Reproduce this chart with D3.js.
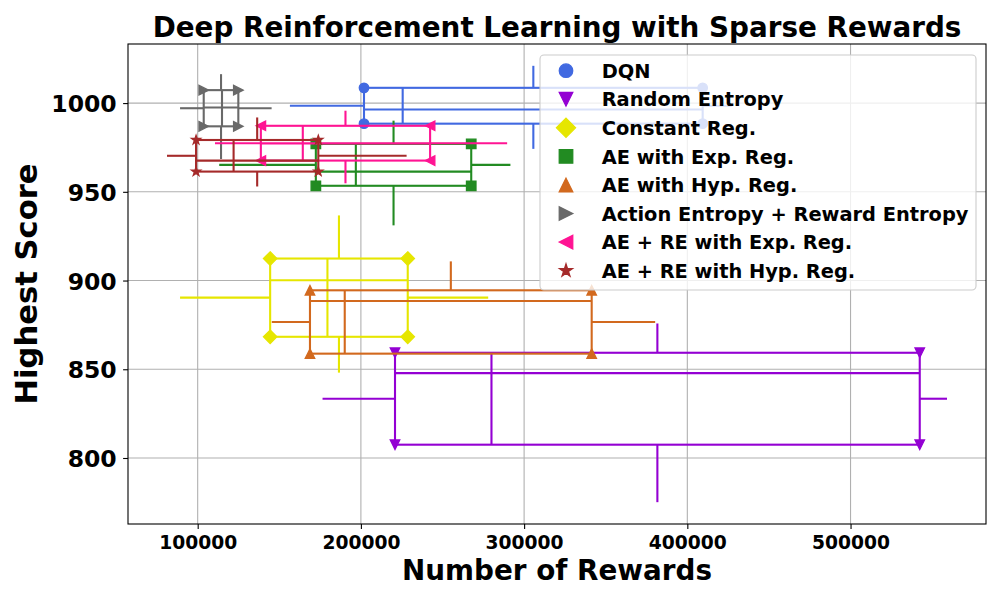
<!DOCTYPE html>
<html>
<head>
<meta charset="utf-8">
<script src="https://cdn.jsdelivr.net/npm/d3@7"></script>
<style>
  html, body { margin: 0; padding: 0; background: #fff; }
  svg { display: block; font-family: "DejaVu Sans", sans-serif; }
</style>
</head>
<body>
<svg id="chart" width="1000" height="600"></svg>
<script>
// ---- data ----
const methods = [
  "DQN",
  "Random Entropy",
  "Constant Reg.",
  "AE with Exp. Reg.",
  "AE with Hyp. Reg.",
  "Action Entropy + Reward Entropy",
  "AE + RE with Exp. Reg.",
  "AE + RE with Hyp. Reg."
];
// Number of Rewards (x) box statistics
const xWhiskerLow  = [156500, 176500,  89200, 113200, 145400,  89200, 110600,  81200];
const xQ1          = [201900, 220900, 144400, 172400, 168800, 103700, 138700,  99000];
const xMedian      = [225600, 280000, 179500, 196900, 190100, 114900, 164400, 122000];
const xQ3          = [409400, 542400, 228700, 267600, 341400, 124900, 242400, 173900];
const xWhiskerHigh = [427200, 559100, 278000, 291600, 380300, 145300, 289600, 228000];
// Highest Score (y) box statistics
const yWhiskerLow  = [974.2, 775.1, 848.1, 931.1, 858.8, 968.5, 954.8, 953.0];
const yQ1          = [988.4, 807.5, 868.3, 953.4, 858.8, 986.9, 967.6, 961.4];
const yMedian      = [996.4, 847.8, 900.2, 961.4, 888.5, 997.5, 977.3, 967.6];
const yQ3          = [1008.6, 859.3, 912.4, 977.0, 894.5, 1007.3, 987.2, 979.2];
const yWhiskerHigh = [1021.0, 875.8, 936.7, 990.1, 910.8, 1016.3, 995.7, 991.9];

const xTicks = [100000, 200000, 300000, 400000, 500000];
const yTicks = [800, 850, 900, 950, 1000];

// ---- styles ----
const colors  = ["#4169e1", "#9400d3", "#e6e600", "#228b22", "#d2691e", "#696969", "#ff1493", "#a52a2a"];
const markers = ["o", "v", "D", "s", "^", ">", "<", "*"];

const W = 1000, H = 600;
const plot = { left: 128, right: 986, top: 44, bottom: 524 };

const svg = d3.select("#chart");
svg.append("rect").attr("width", W).attr("height", H).attr("fill", "#fff");

// domain: data extent with 5% margins (matplotlib auto-scaling)
const xmin = d3.min(xWhiskerLow), xmax = d3.max(xWhiskerHigh);
const ymin = d3.min(yWhiskerLow), ymax = d3.max(yWhiskerHigh);
const xs = (xmax - xmin) * 0.05, ys = (ymax - ymin) * 0.05;
const x = d3.scaleLinear().domain([xmin - xs, xmax + xs]).range([plot.left, plot.right]);
const y = d3.scaleLinear().domain([ymin - ys, ymax + ys]).range([plot.bottom, plot.top]);

// grid
const grid = svg.append("g");
grid.selectAll(".gx").data(xTicks).join("line")
  .attr("x1", d => x(d)).attr("x2", d => x(d))
  .attr("y1", plot.top).attr("y2", plot.bottom)
  .attr("stroke", "#b0b0b0").attr("stroke-width", 1.1);
grid.selectAll(".gy").data(yTicks).join("line")
  .attr("y1", d => y(d)).attr("y2", d => y(d))
  .attr("x1", plot.left).attr("x2", plot.right)
  .attr("stroke", "#b0b0b0").attr("stroke-width", 1.1);

// marker paths (size s in px, matplotlib-like geometry)
function markerPath(m, s) {
  const h = s / 2;
  switch (m) {
    case "o": return `M${h},0A${h},${h} 0 1,1 ${-h},0A${h},${h} 0 1,1 ${h},0Z`;
    case "s": return `M${-h},${-h}L${h},${-h}L${h},${h}L${-h},${h}Z`;
    case "D": { const d = s * 0.7071; return `M0,${-d}L${d},0L0,${d}L${-d},0Z`; }
    case "^": return `M0,${-h}L${h},${h}L${-h},${h}Z`;
    case "v": return `M0,${h}L${h},${-h}L${-h},${-h}Z`;
    case ">": return `M${h},0L${-h},${-h}L${-h},${h}Z`;
    case "<": return `M${-h},0L${h},${-h}L${h},${h}Z`;
    case "*": {
      const pts = [];
      for (let k = 0; k < 10; k++) {
        const r = k % 2 === 0 ? h : h * 0.381966;
        const a = -Math.PI / 2 + k * Math.PI / 5;
        pts.push([r * Math.cos(a), r * Math.sin(a)]);
      }
      return "M" + pts.map(p => p[0].toFixed(2) + "," + p[1].toFixed(2)).join("L") + "Z";
    }
  }
}

const LW = 2.1;
const MS = 9.5;
const seriesG = svg.append("g");
methods.forEach((name, i) => {
  const c = colors[i];
  const g = seriesG.append("g");
  const cx = (xQ1[i] + xQ3[i]) / 2;   // position of the vertical (score) box plot
  const cy = (yQ1[i] + yQ3[i]) / 2;   // position of the horizontal (rewards) box plot
  const seg = (x1, y1, x2, y2) => g.append("line")
    .attr("x1", x(x1)).attr("y1", y(y1)).attr("x2", x(x2)).attr("y2", y(y2))
    .attr("stroke", c).attr("stroke-width", LW).attr("stroke-linecap", "butt");
  // whiskers
  seg(cx, yQ1[i], cx, yWhiskerLow[i]);
  seg(cx, yQ3[i], cx, yWhiskerHigh[i]);
  seg(xQ1[i], cy, xWhiskerLow[i], cy);
  seg(xQ3[i], cy, xWhiskerHigh[i], cy);
  // box
  g.append("rect")
    .attr("x", x(xQ1[i])).attr("y", y(yQ3[i]))
    .attr("width", x(xQ3[i]) - x(xQ1[i])).attr("height", y(yQ1[i]) - y(yQ3[i]))
    .attr("fill", "none").attr("stroke", c).attr("stroke-width", LW);
  // medians
  seg(xQ1[i], yMedian[i], xQ3[i], yMedian[i]);
  seg(xMedian[i], yQ1[i], xMedian[i], yQ3[i]);
  // corner markers
  const corners = [[xQ1[i], yQ3[i]], [xQ3[i], yQ3[i]], [xQ3[i], yQ1[i]], [xQ1[i], yQ1[i]]];
  g.selectAll("path.mk").data(corners).join("path")
    .attr("class", "mk")
    .attr("d", markerPath(markers[i], MS))
    .attr("transform", d => `translate(${x(d[0])},${y(d[1])})`)
    .attr("fill", c).attr("stroke", c).attr("stroke-width", 1.3)
    .attr("stroke-linejoin", "miter");
});

// axes
const xAxis = svg.append("g").attr("transform", `translate(0,${plot.bottom})`)
  .call(d3.axisBottom(x).tickValues(xTicks).tickFormat(d3.format("d")).tickSizeOuter(0).tickSize(4.9));
xAxis.select(".domain").remove();
xAxis.selectAll(".tick line").attr("stroke", "#000").attr("stroke-width", 1.1);
xAxis.selectAll(".tick text").attr("y", 25.3).attr("dy", 0)
  .attr("font-size", "18.7px").attr("font-weight", "bold").attr("fill", "#000")
  .attr("font-family", "DejaVu Sans");

const yAxis = svg.append("g").attr("transform", `translate(${plot.left},0)`)
  .call(d3.axisLeft(y).tickValues(yTicks).tickFormat(d3.format("d")).tickSizeOuter(0).tickSize(4.9));
yAxis.select(".domain").remove();
yAxis.selectAll(".tick line").attr("stroke", "#000").attr("stroke-width", 1.1);
yAxis.selectAll(".tick text").attr("x", -11.3).attr("dy", 8.6)
  .attr("font-size", "23.5px").attr("font-weight", "bold").attr("fill", "#000")
  .attr("font-family", "DejaVu Sans");

// spines
svg.append("rect")
  .attr("x", plot.left).attr("y", plot.top)
  .attr("width", plot.right - plot.left).attr("height", plot.bottom - plot.top)
  .attr("fill", "none").attr("stroke", "#000").attr("stroke-width", 1.1);

// title & labels
svg.append("text").attr("x", (plot.left + plot.right) / 2).attr("y", 37)
  .attr("text-anchor", "middle").attr("font-size", "27.8px").attr("font-weight", "bold")
  .text("Deep Reinforcement Learning with Sparse Rewards");
svg.append("text").attr("x", (plot.left + plot.right) / 2).attr("y", 580)
  .attr("text-anchor", "middle").attr("font-size", "27.8px").attr("font-weight", "bold")
  .text("Number of Rewards");
svg.append("text")
  .attr("transform", `translate(37,${(plot.top + plot.bottom) / 2}) rotate(-90)`)
  .attr("text-anchor", "middle").attr("font-size", "30.6px").attr("font-weight", "bold")
  .text("Highest Score");

// legend
const leg = svg.append("g");
leg.append("rect").attr("x", 540).attr("y", 55).attr("width", 436).attr("height", 235)
  .attr("rx", 4).attr("ry", 4)
  .attr("fill", "#fff").attr("fill-opacity", 0.8)
  .attr("stroke", "#cccccc").attr("stroke-width", 1.1);
methods.forEach((name, i) => {
  const cyL = 70.7 + i * 28.57;
  leg.append("path").attr("d", markerPath(markers[i], 13.5))
    .attr("transform", `translate(566,${cyL})`)
    .attr("fill", colors[i]).attr("stroke", colors[i]).attr("stroke-width", 1.3);
  leg.append("text").attr("x", 601.7).attr("y", cyL + 7.1)
    .attr("font-size", "19.4px").attr("font-weight", "bold").attr("fill", "#000")
    .text(name);
});
</script>
</body>
</html>
